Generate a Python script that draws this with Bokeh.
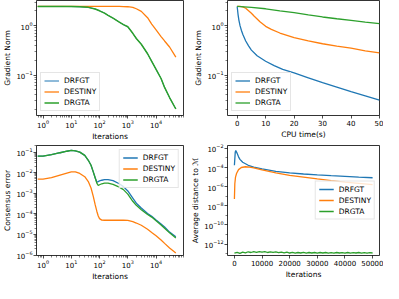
from bokeh.plotting import figure
from bokeh.layouts import gridplot
from bokeh.models import FixedTicker, Range1d
from bokeh.embed import file_html
from bokeh.resources import INLINE

BLUE, ORANGE, GREEN = "#1f77b4", "#ff7f0e", "#2ca02c"
FONT = "DejaVu Sans"

# ---------------- Panel 1: gradient norm vs iterations ----------------
iters1 = [0.65, 1, 2, 5, 10, 20, 40, 70, 100, 150, 200, 300, 500, 700, 1000,
          1500, 2000, 3000, 5000, 7000, 10000, 15000, 20000, 30000, 50000]
drgta1 = [2.45, 2.45, 2.45, 2.45, 2.44, 2.42, 2.35, 2.18, 2.0, 1.8, 1.62, 1.42,
          1.18, 1.05, 0.95, 0.7, 0.55, 0.42, 0.27, 0.19, 0.13, 0.085, 0.056,
          0.035, 0.0205]
drfgt1 = [2.45, 2.45, 2.45, 2.45, 2.44, 2.42, 2.35, 2.18, 2.0, 1.8, 1.62, 1.42,
          1.18, 1.05, 0.95, 0.7, 0.55, 0.42, 0.27, 0.19, 0.13, 0.085, 0.056,
          0.035, 0.0205]
destiny1 = [2.45, 2.45, 2.45, 2.45, 2.45, 2.45, 2.45, 2.45, 2.45, 2.45, 2.45,
            2.45, 2.45, 2.44, 2.42, 2.35, 2.2, 1.95, 1.45, 1.08, 0.82, 0.6,
            0.49, 0.37, 0.23]

# ---------------- Panel 2: gradient norm vs CPU time ----------------
t_drfgt = [0, 0.3, 0.6, 1, 1.5, 2, 3, 4, 5, 7, 10, 13, 16, 20, 25, 30, 35, 40, 45, 50]
drfgt2 = [2.45, 1.7, 1.3, 1.0, 0.8, 0.66, 0.49, 0.39, 0.32, 0.245, 0.19, 0.155,
          0.13, 0.11, 0.088, 0.07, 0.057, 0.046, 0.038, 0.031]
t_destiny = [0, 1, 2, 3, 4, 5, 6, 8, 10, 12, 15, 20, 25, 30, 35, 40, 45, 50]
destiny2 = [2.45, 2.45, 2.4, 2.25, 2.0, 1.78, 1.55, 1.2, 0.97, 0.84, 0.71, 0.57,
            0.49, 0.43, 0.385, 0.35, 0.31, 0.28]
t_drgta = [0, 5, 10, 15, 20, 25, 30, 35, 40, 45, 50]
drgta2 = [2.45, 2.35, 2.2, 2.0, 1.83, 1.65, 1.5, 1.38, 1.28, 1.18, 1.1]

# ---------------- Panel 3: consensus error vs iterations ----------------
iters3 = [0.65, 1, 2, 4, 7, 10, 14, 20, 30, 40, 50, 60, 70, 80, 90, 100, 120,
          150, 200, 300, 500, 700, 1000, 1500, 2000, 3000, 5000, 7000, 10000,
          15000, 20000, 30000, 50000]
drgta3 = [0.064, 0.064, 0.075, 0.093, 0.11, 0.12, 0.115, 0.1, 0.069, 0.04,
          0.023, 0.011, 0.0057, 0.0031, 0.0024, 0.0026, 0.0029, 0.0031, 0.0031,
          0.0027, 0.002, 0.0015, 9.1e-4, 4.1e-4, 2.6e-4, 1.6e-4, 9.3e-5, 7e-5,
          4.6e-5, 2.9e-5, 2e-5, 1.2e-5, 6.8e-6]
drfgt3 = [0.064, 0.064, 0.075, 0.093, 0.11, 0.12, 0.115, 0.1, 0.069, 0.04,
          0.023, 0.011, 0.0057, 0.0035, 0.0037, 0.004, 0.0043, 0.0046, 0.0046,
          0.0041, 0.0029, 0.0021, 0.0013, 5.9e-4, 3.3e-4, 1.95e-4, 1.05e-4,
          7.6e-5, 5e-5, 3.2e-5, 2.3e-5, 1.3e-5, 7.8e-6]
destiny3 = [0.0049, 0.0049, 0.0057, 0.0077, 0.0096, 0.011, 0.011, 0.0092,
            0.0064, 0.0037, 0.0018, 7.1e-4, 2.8e-4, 1.35e-4, 7.9e-5, 5.9e-5,
            5e-5, 4.9e-5, 4.9e-5, 4.9e-5, 4.9e-5, 4.9e-5, 4.8e-5, 4.2e-5,
            3.6e-5, 2.8e-5, 1.8e-5, 1.26e-5, 8.7e-6, 5.4e-6, 3.7e-6, 2.2e-6,
            1.26e-6]

# ---------------- Panel 4: average distance to manifold ----------------
x4_drfgt = [0, 300, 500, 1000, 1500, 2000, 3000, 5000, 7000, 10000, 15000,
            20000, 25000, 30000, 35000, 40000, 45000, 50000]
drfgt4 = [1.7e-4, 4e-3, 6e-3, 3e-3, 1.3e-3, 7e-4, 3.5e-4, 1.7e-4, 1.1e-4, 7e-5,
          4e-5, 2.8e-5, 2.1e-5, 1.7e-5, 1.4e-5, 1.2e-5, 1e-5, 8.5e-6]
x4_destiny = [0, 150, 400, 800, 1500, 2500, 4000, 5500, 7000, 10000, 15000,
              20000, 25000, 30000, 35000, 40000, 45000, 50000]
destiny4 = [5e-8, 2e-6, 1e-5, 2.5e-5, 6e-5, 1e-4, 1.2e-4, 1.1e-4, 9e-5, 5.5e-5,
            2.8e-5, 1.5e-5, 1e-5, 6.5e-6, 4.3e-6, 3e-6, 2.2e-6, 1.6e-6]
x4_drgta = [0, 1000, 2000, 3000, 4000, 5000, 6000, 7000, 8000, 9000, 10000,
            11000, 12000, 13000, 14000, 15000, 16000, 17000, 18000, 19000, 20000,
            21000, 22000, 23000, 24000, 25000, 26000, 27000, 28000, 29000, 30000,
            31000, 32000, 33000, 34000, 35000, 36000, 37000, 38000, 39000, 40000,
            41000, 42000, 43000, 44000, 45000, 46000, 47000, 48000, 49000, 50000]
drgta4 = [1.1e-13, 1.35e-13, 1.05e-13, 1.4e-13, 1.2e-13, 1.55e-13, 1.3e-13,
          1.6e-13, 1.35e-13, 1.65e-13, 1.4e-13, 1.6e-13, 1.3e-13, 1.55e-13,
          1.35e-13, 1.5e-13, 1.25e-13, 1.45e-13, 1.2e-13, 1.4e-13, 1.15e-13,
          1.35e-13, 1.1e-13, 1.3e-13, 1.15e-13, 1.35e-13, 1.1e-13, 1.3e-13,
          1.15e-13, 1.3e-13, 1.1e-13, 1.3e-13, 1.15e-13, 1.3e-13, 1.1e-13,
          1.25e-13, 1.1e-13, 1.3e-13, 1.15e-13, 1.25e-13, 1.1e-13, 1.3e-13,
          1.1e-13, 1.25e-13, 1.15e-13, 1.3e-13, 1.1e-13, 1.25e-13, 1.1e-13,
          1.25e-13, 1.15e-13]

# ---------------- ticks ----------------
iter_major = [1, 10, 100, 1000, 10000]
iter_minor = [0.7, 0.8, 0.9] + [m * 10 ** e for e in range(0, 5) for m in range(2, 10)]
grad_major = [0.1, 1]
grad_minor = [m * 10 ** e for e in (-2, -1) for m in range(2, 10)] + [2, 3]
cons_major = [1e-6, 1e-5, 1e-4, 1e-3, 1e-2, 1e-1]
cons_minor = [m * 10 ** e for e in range(-6, 0) for m in range(2, 10)]
dist_major = [1e-12, 1e-10, 1e-8, 1e-6, 1e-4, 1e-2]
dist_minor = [1e-13, 1e-11, 1e-9, 1e-7, 1e-5, 1e-3]
cpu_ticks = [0, 10, 20, 30, 40, 50]
it_ticks = [0, 10000, 20000, 30000, 40000, 50000]


def make_fig(w, h, xtype, ytype, xr, yr, bl, br, bt, bb):
    p = figure(width=w, height=h, x_axis_type=xtype, y_axis_type=ytype,
               x_range=Range1d(*xr), y_range=Range1d(*yr),
               output_backend="svg", toolbar_location=None,
               min_border_left=bl, min_border_right=br,
               min_border_top=bt, min_border_bottom=bb)
    p.xgrid.visible = False
    p.ygrid.visible = False
    p.outline_line_color = "black"
    p.outline_line_width = 0.8
    p.background_fill_color = "white"
    for ax in p.axis:
        ax.axis_line_color = None
        ax.major_tick_in = 0
        ax.major_tick_out = 3
        ax.minor_tick_in = 0
        ax.minor_tick_out = 2
        ax.major_tick_line_color = "black"
        ax.minor_tick_line_color = "black"
        ax.major_tick_line_width = 0.7
        ax.minor_tick_line_width = 0.5
        ax.major_label_text_font = FONT
        ax.major_label_text_font_size = "7px"
        ax.major_label_text_color = "black"
        ax.major_label_standoff = 1
        ax.axis_label_text_font = FONT
        ax.axis_label_text_font_size = "7.5px"
        ax.axis_label_text_font_style = "normal"
        ax.axis_label_text_color = "black"
        ax.axis_label_standoff = 1
    return p


def style_legend(p, loc):
    lg = p.legend[0]
    lg.location = loc
    lg.label_text_font = FONT
    lg.label_text_font_size = "7.5px"
    lg.label_text_color = "black"
    lg.label_height = 9
    lg.label_standoff = 5
    lg.glyph_width = 15
    lg.glyph_height = 9
    lg.spacing = 2
    lg.padding = 3
    lg.margin = 4
    lg.border_line_color = "#cccccc"
    lg.border_line_width = 0.8
    lg.background_fill_alpha = 0.8


LW = 1.3

# Panel 1
p1 = make_fig(188, 143, "log", "log", (10 ** -0.23, 10 ** 4.97), (10 ** -1.82, 10 ** 0.51), 30, 5, 0, 27)
p1.line(iters1, drfgt1, color=BLUE, line_width=1.0, legend_label="DRFGT")
p1.line(iters1, destiny1, color=ORANGE, line_width=LW, legend_label="DESTINY")
p1.line(iters1, drgta1, color=GREEN, line_width=LW + 0.2, legend_label="DRGTA")
p1.xaxis.ticker = FixedTicker(ticks=iter_major, minor_ticks=iter_minor)
p1.yaxis.ticker = FixedTicker(ticks=grad_major, minor_ticks=grad_minor)
p1.xaxis.axis_label = "Iterations"
p1.yaxis.axis_label = "Gradient Norm"
style_legend(p1, "bottom_left")

# Panel 2
p2 = make_fig(195, 143, "linear", "log", (-3.4, 50), (10 ** -1.82, 10 ** 0.51), 38, 4, 0, 27)
p2.line(t_drfgt, drfgt2, color=BLUE, line_width=LW, legend_label="DRFGT")
p2.line(t_destiny, destiny2, color=ORANGE, line_width=LW, legend_label="DESTINY")
p2.line(t_drgta, drgta2, color=GREEN, line_width=LW, legend_label="DRGTA")
p2.xaxis.ticker = FixedTicker(ticks=cpu_ticks, minor_ticks=[])
p2.yaxis.ticker = FixedTicker(ticks=grad_major, minor_ticks=grad_minor)
p2.xaxis.axis_label = "CPU time(s)"
p2.yaxis.axis_label = "Gradient Norm"
style_legend(p2, "bottom_left")

# Panel 3
p3 = make_fig(188, 140, "log", "log", (10 ** -0.23, 10 ** 4.97), (10 ** -6.02, 10 ** -0.68), 30, 5, 2, 26)
p3.line(iters3, drfgt3, color=BLUE, line_width=LW, legend_label="DRFGT")
p3.line(iters3, destiny3, color=ORANGE, line_width=LW, legend_label="DESTINY")
p3.line(iters3, drgta3, color=GREEN, line_width=LW, legend_label="DRGTA")
p3.xaxis.ticker = FixedTicker(ticks=iter_major, minor_ticks=iter_minor)
p3.yaxis.ticker = FixedTicker(ticks=cons_major, minor_ticks=cons_minor)
p3.xaxis.axis_label = "Iterations"
p3.yaxis.axis_label = "Consensus error"
style_legend(p3, "top_right")

# Panel 4
p4 = make_fig(195, 140, "linear", "log", (-2500, 52500), (10 ** -13.2, 10 ** -1.7), 38, 4, 2, 26)
p4.line(x4_drfgt, drfgt4, color=BLUE, line_width=LW, legend_label="DRFGT")
p4.line(x4_destiny, destiny4, color=ORANGE, line_width=LW, legend_label="DESTINY")
p4.line(x4_drgta, drgta4, color=GREEN, line_width=LW, legend_label="DRGTA")
p4.xaxis.ticker = FixedTicker(ticks=it_ticks, minor_ticks=[])
p4.yaxis.ticker = FixedTicker(ticks=dist_major, minor_ticks=dist_minor)
p4.xaxis.axis_label = "Iterations"
p4.yaxis.axis_label = "Average distance to \u2133"
style_legend(p4, "center_right")

grid = gridplot([[p1, p2], [p3, p4]], toolbar_location=None)

open("out.html", "w").write(file_html(grid, INLINE))
